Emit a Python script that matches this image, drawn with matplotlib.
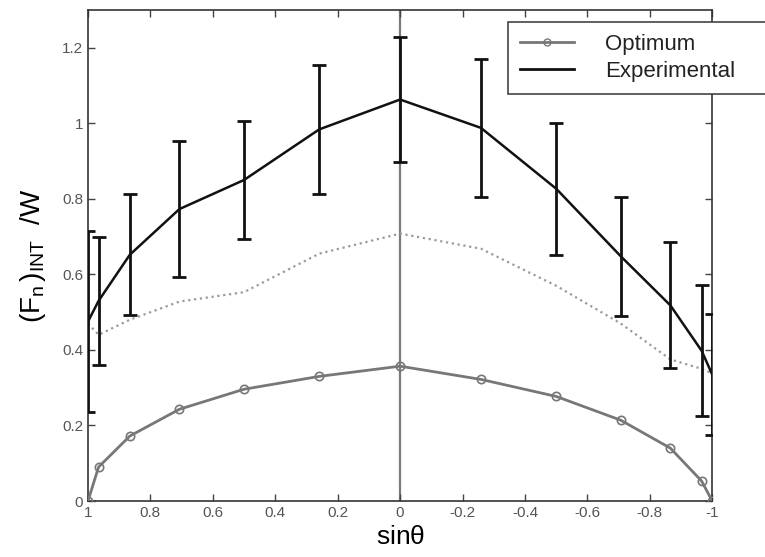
import matplotlib
matplotlib.use("Agg")
import matplotlib.pyplot as plt
from matplotlib.lines import Line2D

plt.rcParams['font.family'] = ['Liberation Sans', 'DejaVu Sans']
plt.rcParams['mathtext.fontset'] = 'custom'
plt.rcParams['mathtext.rm'] = 'Liberation Sans'
plt.rcParams['mathtext.it'] = 'Liberation Sans'

# sin(theta) for theta = 90, 75, 60, ... , -90 degrees
sin_theta = [1, 0.966, 0.866, 0.707, 0.5, 0.259, 0, -0.259, -0.5, -0.707, -0.866, -0.966, -1]

optimum = [0, 0.09, 0.172, 0.243, 0.296, 0.33, 0.357, 0.322, 0.277, 0.214, 0.14, 0.053, 0]
experimental = [0.475, 0.53, 0.652, 0.773, 0.85, 0.984, 1.063, 0.988, 0.827, 0.648, 0.518, 0.398, 0.335]
exp_err = [0.24, 0.17, 0.16, 0.18, 0.155, 0.17, 0.165, 0.182, 0.175, 0.157, 0.167, 0.173, 0.16]
dotted = [0.47, 0.44, 0.48, 0.528, 0.553, 0.655, 0.708, 0.668, 0.57, 0.47, 0.375, 0.35, 0.338]

xticks = [1, 0.8, 0.6, 0.4, 0.2, 0, -0.2, -0.4, -0.6, -0.8, -1]
xticklabels = ['1', '0.8', '0.6', '0.4', '0.2', '0', '-0.2', '-0.4', '-0.6', '-0.8', '-1']
yticks = [0, 0.2, 0.4, 0.6, 0.8, 1, 1.2]
yticklabels = ['0', '0.2', '0.4', '0.6', '0.8', '1', '1.2']

fig = plt.figure(figsize=(7.65, 5.57), dpi=100)
ax = fig.add_axes([0.115, 0.1005, 0.816, 0.8815])

ax.axvline(0, color='#7a7a7a', lw=1.6, zorder=1)

ax.plot(sin_theta, dotted, ':', color='#9a9a9a', lw=1.6, zorder=2)
ax.plot(sin_theta, optimum, '-o', color='#777777', lw=2, ms=6,
        mfc='none', mec='#777777', mew=1.2, zorder=3)
ax.errorbar(sin_theta, experimental, yerr=exp_err, color='#111111', lw=1.8,
            elinewidth=2, capsize=5, capthick=2, zorder=4)

ax.set_xlim(1, -1)
ax.set_ylim(0, 1.3)
ax.set_xticks(xticks)
ax.set_xticklabels(xticklabels)
ax.set_yticks(yticks)
ax.set_yticklabels(yticklabels)
ax.tick_params(direction='in', top=True, right=True, length=5, width=1,
               colors='#444444', labelsize=11, labelcolor='#555555')
for s in ax.spines.values():
    s.set_color('#333333')
    s.set_linewidth(1.2)

ax.set_xlabel(r'sin$\theta$', fontsize=19, labelpad=4)
ax.set_ylabel(r'$\mathrm{(F_n\,)_{INT}}$  /W', fontsize=20, labelpad=10)

handles = [
    Line2D([], [], color='#777777', lw=2, marker='o', ms=5, mfc='none', mec='#777777'),
    Line2D([], [], color='#111111', lw=2),
]
leg = ax.legend(handles, ['Optimum', 'Experimental'], loc='upper left',
                bbox_to_anchor=(0.673, 0.5, 0.42, 0.4755), mode='expand',
                fontsize=16, frameon=True, fancybox=False, framealpha=1,
                edgecolor='#444444', handlelength=2.4, handletextpad=1.4,
                borderpad=0.55, labelspacing=0.25, borderaxespad=0)
leg.get_frame().set_linewidth(1.2)
for t in leg.get_texts():
    t.set_color('#222222')

fig.savefig('out.png', dpi=100)
